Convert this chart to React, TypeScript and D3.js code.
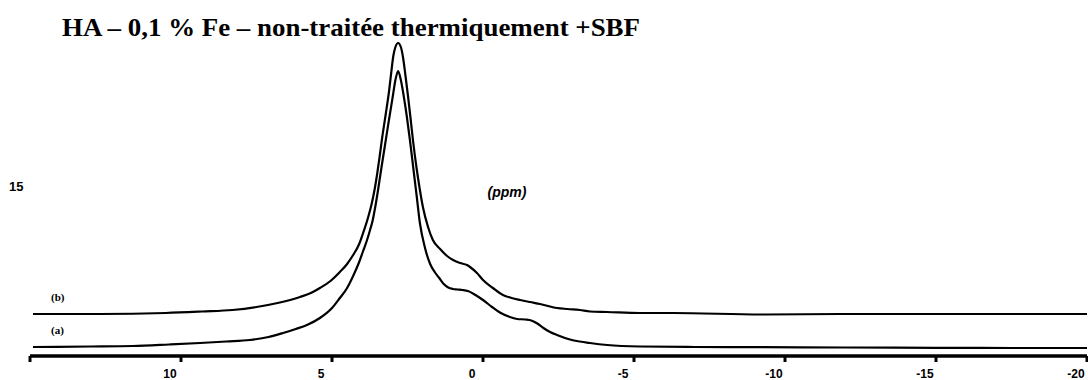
import React from "react";
import * as d3 from "d3";

const W = 1088;
const H = 380;

const title = "HA – 0,1 % Fe – non-traitée thermiquement  +SBF";
const axisLabel = "(ppm)";
const seriesLabels = ["(a)", "(b)"];

// x domain in ppm (reversed NMR axis)
const ppmDomain = [15, -20];
const tickValues = [15, 10, 5, 0, -5, -10, -15, -20];
const tickLabels = ["15", "10", "5", "0", "-5", "-10", "-15", "-20"];

// Spectrum (a): [ppm, intensity]
const seriesA: [number, number][] = [
  [14.9, 3], [13.0, 3.5], [11.6, 4], [10.4, 5.5], [9.37, 7], [8.5, 8.5], [7.72, 10], [7.1, 13], [6.62, 17],
  [6.2, 21], [5.83, 25], [5.4, 32], [5.0, 42], [4.74, 52], [4.5, 62], [4.3, 74], [4.1, 88], [3.97, 99],
  [3.85, 109], [3.74, 120], [3.65, 130], [3.58, 141], [3.48, 159], [3.38, 179], [3.25, 204], [3.12, 229],
  [2.98, 255], [2.9, 270], [2.81, 279], [2.72, 270], [2.62, 253], [2.52, 233], [2.42, 210], [2.3, 180],
  [2.2, 155], [2.09, 127], [1.92, 102], [1.75, 86], [1.6, 78], [1.45, 72], [1.3, 66], [1.15, 62.5],
  [0.99, 61], [0.86, 60.5], [0.68, 60], [0.5, 59], [0.25, 55], [0.0, 50], [-0.3, 43], [-0.56, 37.5],
  [-0.85, 33.5], [-1.13, 31], [-1.4, 30.5], [-1.6, 29.5], [-1.8, 26.5], [-2.0, 22], [-2.22, 18],
  [-2.45, 15], [-2.88, 10.5], [-3.2, 8.5], [-3.54, 7], [-4.11, 5], [-5.2, 3.5], [-7.0, 3], [-9.2, 2.8],
  [-12.0, 2.5], [-15.0, 2.2], [-17.5, 2], [-20.0, 2],
];

// Spectrum (b): [ppm, intensity]
const seriesB: [number, number][] = [
  [14.9, 36], [12.7, 36], [10.5, 37], [9.3, 38.5], [8.3, 40], [7.5, 43], [6.8, 47], [6.06, 53], [5.7, 57],
  [5.4, 62], [5.05, 69], [4.74, 78], [4.5, 86], [4.3, 95], [4.1, 106], [3.97, 117], [3.82, 131],
  [3.68, 147], [3.58, 162], [3.5, 177], [3.42, 194], [3.34, 212], [3.22, 236], [3.11, 259], [3.04, 277],
  [2.97, 294], [2.9, 303], [2.81, 307], [2.72, 303], [2.65, 293], [2.57, 275], [2.48, 253], [2.4, 232],
  [2.32, 210], [2.2, 182], [2.1, 162], [1.99, 143], [1.82, 123], [1.66, 110], [1.42, 101], [1.19, 94],
  [0.99, 90], [0.76, 87], [0.53, 85], [0.43, 83], [0.2, 77], [0.0, 70], [-0.33, 62], [-0.66, 55],
  [-0.95, 52], [-1.23, 50], [-1.55, 48], [-1.89, 46], [-2.45, 42], [-2.8, 41], [-3.21, 40],
  [-3.54, 38.5], [-4.11, 38], [-5.2, 37], [-6.3, 37], [-9.2, 35.5], [-12.0, 36], [-15.0, 36],
  [-17.5, 36], [-20.0, 36],
];

const X0 = 30;
const X1 = 1087;
const AXIS_Y = 356;

export default function App() {
  const x = d3.scaleLinear().domain(ppmDomain).range([X0, X1]);
  const y = d3.scaleLinear().domain([0, 310]).range([350, 40]);

  const line = d3
    .line<[number, number]>()
    .x((d) => x(d[0]))
    .y((d) => y(d[1]))
    .curve(d3.curveMonotoneX);

  const first = seriesA[0][0];

  return (
    <svg
      width={W}
      height={H}
      style={{ position: "absolute", left: 0, top: 0, background: "#fff" }}
    >
      <rect x={0} y={0} width={W} height={H} fill="#fff" />
      <text
        x={62}
        y={36}
        fontFamily="'Liberation Serif', 'Times New Roman', serif"
        fontWeight="bold"
        fontSize={25}
        textLength={578}
        lengthAdjust="spacingAndGlyphs"
        fill="#000"
      >
        {title}
      </text>

      <path d={line(seriesA) || ""} fill="none" stroke="#000" strokeWidth={2.2} strokeLinejoin="round" />
      <path d={line(seriesB) || ""} fill="none" stroke="#000" strokeWidth={2.2} strokeLinejoin="round" />

      <text
        x={x(first) + 18}
        y={y(seriesA[0][1]) - 13}
        fontFamily="'Liberation Serif', serif"
        fontWeight="bold"
        fontSize={11}
        fill="#000"
      >
        {seriesLabels[0]}
      </text>
      <text
        x={x(first) + 18}
        y={y(seriesB[0][1]) - 13}
        fontFamily="'Liberation Serif', serif"
        fontWeight="bold"
        fontSize={11}
        fill="#000"
      >
        {seriesLabels[1]}
      </text>

      <text
        x={507}
        y={197}
        textAnchor="middle"
        fontFamily="'Liberation Sans', Arial, sans-serif"
        fontWeight="bold"
        fontStyle="italic"
        fontSize={14}
        fill="#000"
      >
        {axisLabel}
      </text>

      {/* axis */}
      <line x1={x(ppmDomain[0])} x2={x(ppmDomain[1])} y1={AXIS_Y} y2={AXIS_Y} stroke="#000" strokeWidth={3.5} />
      {tickValues.map((t) => (
        <line key={t} x1={x(t)} x2={x(t)} y1={AXIS_Y} y2={AXIS_Y + 6} stroke="#000" strokeWidth={3} />
      ))}
      {tickValues.map((t, i) =>
        t === ppmDomain[0] ? (
          <text
            key={"l" + t}
            x={9}
            y={191}
            fontFamily="'Liberation Sans', Arial, sans-serif"
            fontWeight="bold"
            fontSize={13}
            fill="#000"
          >
            {tickLabels[i]}
          </text>
        ) : (
          <text
            key={"l" + t}
            x={x(t) - 11}
            y={378}
            textAnchor="middle"
            fontFamily="'Liberation Sans', Arial, sans-serif"
            fontWeight="bold"
            fontSize={12}
            fill="#000"
          >
            {tickLabels[i]}
          </text>
        )
      )}
    </svg>
  );
}
